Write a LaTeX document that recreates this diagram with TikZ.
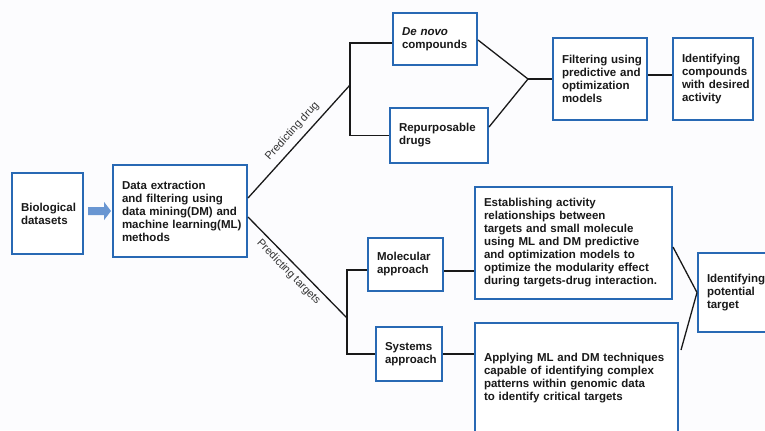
\documentclass[tikz,border=0pt]{standalone}
\usepackage{fontspec}
\setmainfont{Liberation Sans}
\usetikzlibrary{arrows.meta,calc}
\definecolor{boxblue}{RGB}{40,105,180}
\definecolor{arrowblue}{RGB}{105,150,210}
\definecolor{txt}{RGB}{25,25,25}
\definecolor{bg}{RGB}{252,252,254}
\hyphenpenalty=10000
\exhyphenpenalty=10000
\hbadness=10000
\hfuzz=50pt
\begin{document}
\begin{tikzpicture}[x=1bp,y=-1bp,
  box/.style={draw=boxblue, line width=2bp, fill=white, rectangle, inner xsep=9bp, inner ysep=0bp,
    align=left, font=\fontsize{11.5bp}{13bp}\selectfont\bfseries, text=txt},
  conn/.style={draw=black!90, line width=1.3bp},
  lbl/.style={font=\fontsize{11bp}{13bp}\selectfont, text=black!80, inner sep=0bp}]
\clip (0,0) rectangle (765,430);
\fill[bg] (0,0) rectangle (765,430);

\node[box, minimum width=71bp, minimum height=81bp, text width=53bp] (bio) at (47.5,213.5) {Biological\\datasets};
\node[box, minimum width=134bp, minimum height=92bp, text width=116bp] (data) at (180,211) {Data extraction\\and filtering using\\data~mining(DM)~and\\machine~learning(ML)\\methods};
\node[box, minimum width=84bp, minimum height=52bp, text width=66bp] (denovo) at (435,39) {\textit{De novo}\\compounds};
\node[box, minimum width=98bp, minimum height=55bp, text width=80bp] (repurp) at (439,135.5) {Repurposable\\drugs};
\node[box, minimum width=94bp, minimum height=82bp, text width=76bp] (filter) at (600,79) {Filtering~using\\predictive~and\\optimization\\models};
\node[box, minimum width=80bp, minimum height=82bp, text width=62bp] (ident) at (713,79) {Identifying\\compounds\\with~desired\\activity};
\node[box, minimum width=75bp, minimum height=53bp, text width=57bp] (mol) at (405.5,264.5) {Molecular\\approach};
\node[box, minimum width=66bp, minimum height=54bp, text width=48bp] (sys) at (409,354) {Systems\\approach};
\node[box, minimum width=197bp, minimum height=112bp, text width=179bp] (estab) at (573.5,243) {Establishing activity\\relationships between\\targets and small molecule\\using ML and DM predictive\\and optimization models to\\optimize the modularity effect\\during~targets-drug~interaction.};
\node[box, minimum width=203bp, minimum height=110bp, text width=185bp] (apply) at (576.5,378) {Applying ML and DM techniques\\capable of identifying complex\\patterns within genomic data\\to identify critical targets};
\node[box, minimum width=82bp, minimum height=79bp, text width=64bp] (target) at (739,292.5) {Identifying\\potential\\target};

\coordinate (jd) at (350,85);
\coordinate (jt) at (347,318);
\coordinate (jf) at (528,79);

\draw[line width=8bp, arrowblue, -{Triangle[length=7bp,width=18bp]}] ([xshift=4bp,yshift=2.5bp]bio.east) -- ([xshift=-1bp]data.west);

\draw[conn] ([yshift=13bp]data.east) -- node[lbl, sloped, above=6bp, pos=0.52] {Predicting drug} (jd);
\draw[conn] ([yshift=-4bp]denovo.west) -| (jd) |- (repurp.west);
\draw[conn] ([yshift=-6bp]data.east) -- node[lbl, sloped, below=4bp, pos=0.48] {Predicting targets} (jt);
\draw[conn] ([yshift=-5.5bp]mol.west) -| (jt) |- (sys.west);

\draw[conn] ([yshift=-1bp]denovo.east) -- (jf);
\draw[conn] ([yshift=8.5bp]repurp.east) -- (jf);
\draw[conn] (jf) -- (filter.west);
\coordinate (f1) at ([yshift=4bp]filter.east);
\draw[conn] (f1) -- (f1 -| ident.west);

\coordinate (m1) at ([yshift=-6.5bp]mol.east);
\draw[conn] (m1) -- (m1 -| estab.west);
\draw[conn] (sys.east) -- (sys.east -| apply.west);
\draw[conn] ([yshift=-4bp]estab.east) -- (target.west);
\draw[conn] ([xshift=2bp,yshift=28bp]apply.east) -- (target.west);
\end{tikzpicture}
\end{document}
